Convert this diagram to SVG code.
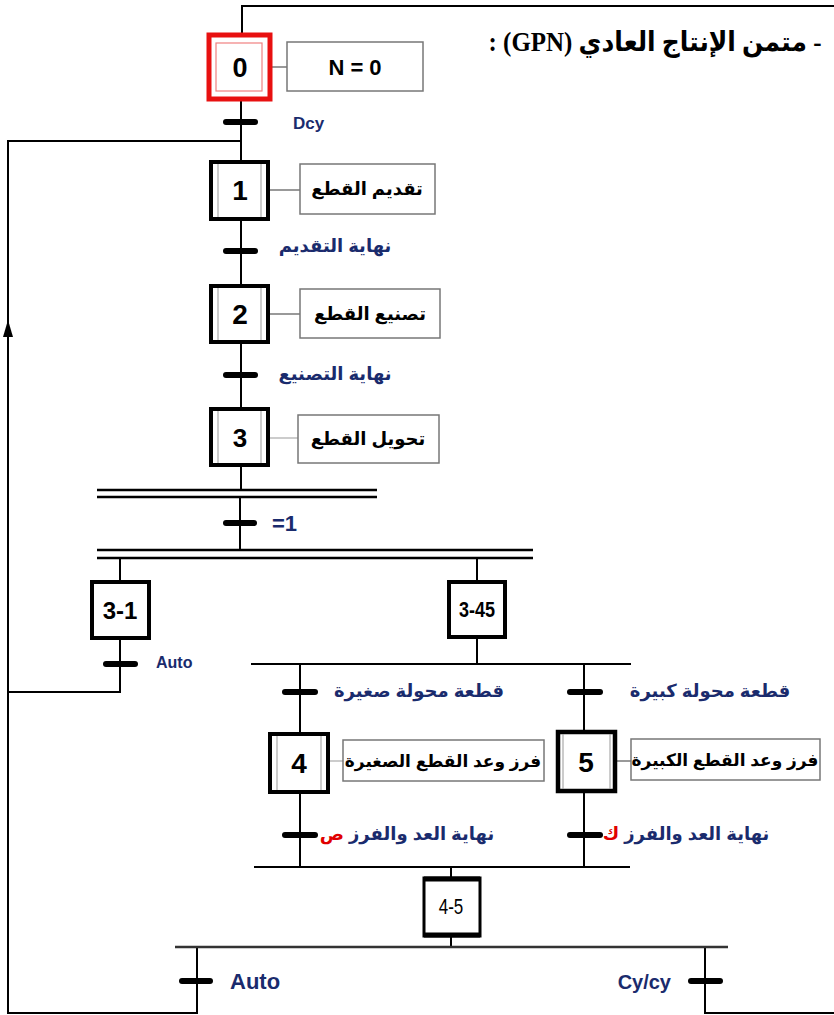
<svg xmlns="http://www.w3.org/2000/svg" width="834" height="1015" viewBox="0 0 834 1015">
<style>
.ln{fill:none;stroke:#000;stroke-width:2}
.bar{stroke:#000;stroke-width:6;stroke-linecap:round}
.dbl{stroke:#000;stroke-width:2.5}
.step{fill:#fff;stroke:#000;stroke-width:4}
.inner{stroke:#999;stroke-width:1}
.act{fill:#fff;stroke:#777;stroke-width:1.5}
.link{stroke:#555;stroke-width:1.2}
.num{font-family:"Liberation Sans",Arial,sans-serif;font-weight:bold;font-size:28px;fill:#000;text-anchor:middle}
.atx{font-family:"Liberation Sans","DejaVu Sans",sans-serif;font-weight:bold;font-size:17px;fill:#000;text-anchor:middle}
.cond{font-family:"Liberation Sans","DejaVu Sans",sans-serif;font-weight:bold;font-size:17px;fill:#1a2b6d}
</style>
<defs>
<marker id="arr" viewBox="0 0 10 10" refX="10" refY="5" markerWidth="17" markerHeight="10" markerUnits="userSpaceOnUse" orient="auto" preserveAspectRatio="none">
<path d="M0,0 L10,5 L0,10 Z" fill="#000"/>
</marker>
</defs>

<text transform="translate(655,51) scale(0.96,1.05)" x="0" y="0" direction="rtl" text-anchor="middle" font-family="'Liberation Serif','DejaVu Serif','DejaVu Sans',serif" font-weight="bold" font-size="26" fill="#000">- متمن الإنتاج العادي (GPN) :</text>

<g id="connectors">
<path class="ln" d="M705,947 V1013 H840 V6 H242 V33"/>
<path class="ln" d="M197,947 V1013 H8 V141 H241"/>
<path class="ln" d="M120,639 V692 H8"/>
<line x1="8" y1="350" x2="8" y2="320" stroke="#000" stroke-width="2" marker-end="url(#arr)"/>
<path class="ln" d="M241,100 V161 M241,220 V285 M241,343 V408 M241,466 V490 M240,497 V550"/>
<path class="ln" d="M120,558 V581 M477,558 V581 M477,638 V664"/>
<path class="ln" d="M251,664 H631"/>
<path class="ln" d="M300,664 V733 M300,793 V867 M584,664 V731 M584,792 V867"/>
<path class="ln" d="M254,867 H630"/>
<path class="ln" d="M451,867 V877 M451,937 V947"/>
<path d="M175,947 H728" stroke="#333" stroke-width="2.5"/>
<line class="dbl" x1="97" y1="490" x2="377" y2="490"/>
<line class="dbl" x1="97" y1="497" x2="377" y2="497"/>
<line class="dbl" x1="97" y1="550" x2="533" y2="550"/>
<line class="dbl" x1="97" y1="558" x2="533" y2="558"/>
<line class="link" x1="272" y1="67" x2="287" y2="67"/>
<line class="link" x1="269" y1="190" x2="300" y2="190"/>
<line class="link" x1="269" y1="314" x2="300" y2="314"/>
<line class="link" x1="269" y1="438" x2="298" y2="438" style="stroke:#aaa"/>
<line class="link" x1="329" y1="761" x2="343" y2="761" style="stroke:#aaa"/>
<line class="link" x1="616" y1="761" x2="631" y2="761"/>
</g>

<g id="transitions">
<line class="bar" x1="226" y1="122" x2="255" y2="122"/>
<text class="cond" x="293" y="129" style="font-size:17px">Dcy</text>
<line class="bar" x1="226" y1="251" x2="255" y2="251"/>
<text class="cond" x="335" y="252" direction="rtl" style="text-anchor:middle;font-size:18px">نهاية التقديم</text>
<line class="bar" x1="226" y1="375" x2="255" y2="375"/>
<text class="cond" x="335" y="380" direction="rtl" style="text-anchor:middle;font-size:18px">نهاية التصنيع</text>
<line class="bar" x1="226" y1="523" x2="254" y2="523"/>
<text class="cond" x="272" y="531" style="font-size:22px">=1</text>
<line class="bar" x1="106" y1="664" x2="135" y2="664"/>
<text class="cond" x="156" y="668" style="font-size:16px">Auto</text>
<line class="bar" x1="285" y1="692" x2="315" y2="692"/>
<text class="cond" x="419" y="697" direction="rtl" style="text-anchor:middle;font-size:18px">قطعة محولة صغيرة</text>
<line class="bar" x1="570" y1="692" x2="600" y2="692"/>
<text class="cond" x="710" y="697" direction="rtl" style="text-anchor:middle;font-size:18px">قطعة محولة كبيرة</text>
<line class="bar" x1="285" y1="835" x2="315" y2="835"/>
<text class="cond" x="407" y="840" direction="rtl" style="text-anchor:middle;font-size:18px">نهاية العد والفرز <tspan fill="#e00000">ص</tspan></text>
<line class="bar" x1="570" y1="835" x2="600" y2="835"/>
<text class="cond" x="686" y="840" direction="rtl" style="text-anchor:middle;font-size:18px">نهاية العد والفرز <tspan fill="#e00000">ك</tspan></text>
<line class="bar" x1="182" y1="981" x2="210" y2="981"/>
<text class="cond" x="230" y="989" style="font-size:22px">Auto</text>
<line class="bar" x1="691" y1="981" x2="720" y2="981"/>
<text class="cond" x="671" y="989" style="font-size:20px;text-anchor:end">Cy/cy</text>
</g>

<g id="step0">
<rect x="209" y="35" width="61" height="64" fill="#fff" stroke="#e81010" stroke-width="5"/>
<rect x="216" y="43" width="46" height="48" fill="none" stroke="#f08080" stroke-width="1.2"/>
<text class="num" x="240" y="77" style="font-size:27px">0</text>
<rect class="act" x="287" y="42" width="136" height="49"/>
<text class="atx" x="355" y="75" style="font-size:22px">N = 0</text>
</g>

<g id="step1">
<rect class="step" x="211" y="162" width="57" height="57"/>
<line class="inner" x1="218" y1="164" x2="218" y2="217"/>
<line class="inner" x1="261" y1="164" x2="261" y2="217"/>
<text class="num" x="240" y="200">1</text>
<rect class="act" x="300" y="164" width="135" height="50"/>
<text class="atx" x="367" y="195" direction="rtl" style="font-size:18px">تقديم القطع</text>
</g>

<g id="step2">
<rect class="step" x="211" y="286" width="57" height="56"/>
<line class="inner" x1="218" y1="288" x2="218" y2="340"/>
<line class="inner" x1="261" y1="288" x2="261" y2="340"/>
<text class="num" x="240" y="324">2</text>
<rect class="act" x="300" y="289" width="140" height="49"/>
<text class="atx" x="370" y="320" direction="rtl" style="font-size:18px">تصنيع القطع</text>
</g>

<g id="step3">
<rect class="step" x="211" y="409" width="57" height="56"/>
<line class="inner" x1="218" y1="411" x2="218" y2="463"/>
<line class="inner" x1="261" y1="411" x2="261" y2="463"/>
<text class="num" x="240" y="447" style="font-size:26px">3</text>
<rect class="act" x="298" y="415" width="141" height="48"/>
<text class="atx" x="368" y="445" direction="rtl" style="font-size:18px">تحويل القطع</text>
</g>

<g id="step3-1">
<rect class="step" x="92" y="582" width="57" height="56"/>
<text class="num" x="120" y="619" style="font-size:24px">3-1</text>
</g>

<g id="step3-45">
<rect class="step" x="449" y="582" width="56" height="55"/>
<text class="num" transform="translate(477,617) scale(1,1.25)" x="0" y="0" style="font-size:18px">3-45</text>
</g>

<g id="step4">
<rect class="step" x="270" y="734" width="58" height="58"/>
<line class="inner" x1="277" y1="736" x2="277" y2="790"/>
<line class="inner" x1="321" y1="736" x2="321" y2="790"/>
<text class="num" x="299" y="773">4</text>
<rect class="act" x="343" y="740" width="201" height="41"/>
<text class="atx" x="443" y="767" direction="rtl">فرز وعد القطع الصغيرة</text>
</g>

<g id="step5">
<rect class="step" x="558" y="732" width="57" height="59" style="stroke-width:4.5"/>
<line class="inner" x1="563" y1="734" x2="563" y2="789"/>
<line class="inner" x1="610" y1="734" x2="610" y2="789"/>
<text class="num" x="586" y="772">5</text>
<rect class="act" x="631" y="739" width="189" height="41"/>
<text class="atx" x="725" y="766" direction="rtl">فرز وعد القطع الكبيرة</text>
</g>

<g id="step4-5">
<rect x="424" y="878" width="56" height="58" fill="#fff" stroke="#000" stroke-width="3"/>
<line x1="424" y1="879" x2="480" y2="879" stroke="#000" stroke-width="5"/>
<line x1="424" y1="935" x2="480" y2="935" stroke="#000" stroke-width="5"/>
<text transform="translate(451,914) scale(1,1.3)" x="0" y="0" text-anchor="middle" font-family="'Liberation Sans',Arial,sans-serif" font-size="17" fill="#000">4-5</text>
</g>
</svg>
